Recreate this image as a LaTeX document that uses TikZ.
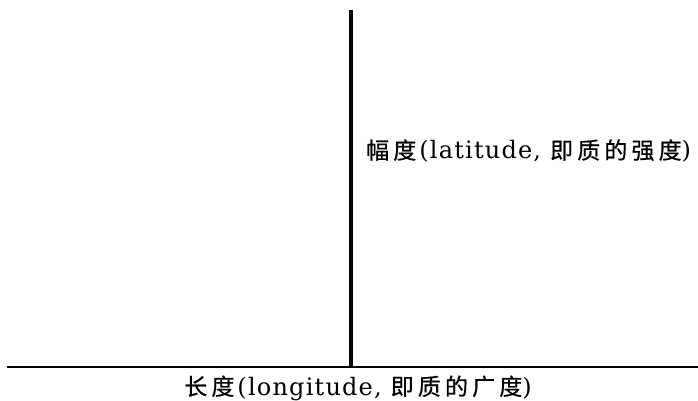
\documentclass[tikz,border=0pt]{standalone}
\usepackage{fontspec}
\setmainfont[LetterSpace=5]{DejaVu Serif}
\newfontfamily\cjk[LetterSpace=18,FakeBold=0.6]{Noto Sans CJK SC}
\newcommand\zh[1]{{\cjk\fontsize{23}{26}\selectfont #1}}
\begin{document}
\begin{tikzpicture}[x=1pt,y=1pt,
  vaxis/.style={line width=3.6pt},
  haxis/.style={line width=2.2pt},
  lbl/.style={font=\fontsize{24}{28}\selectfont, inner sep=0pt}]
\useasboundingbox (0,0) rectangle (698,401);
\coordinate (top) at (351,391);
\coordinate (foot) at (351,34);
\coordinate (left) at (7,34);
\coordinate (right) at (698,34);
\draw[haxis] (left) -- (right);
\draw[vaxis] (top) -- (foot);
\node[lbl, anchor=west] (lat) at (366,250) {\zh{幅度}\hspace{3pt}(latitude,\hspace{9pt}\zh{即质的强度})};
\node[lbl] (lon) at (358,13) {\zh{长度}\hspace{3pt}(longitude,\hspace{9pt}\zh{即质的广度})};
\end{tikzpicture}
\end{document}
